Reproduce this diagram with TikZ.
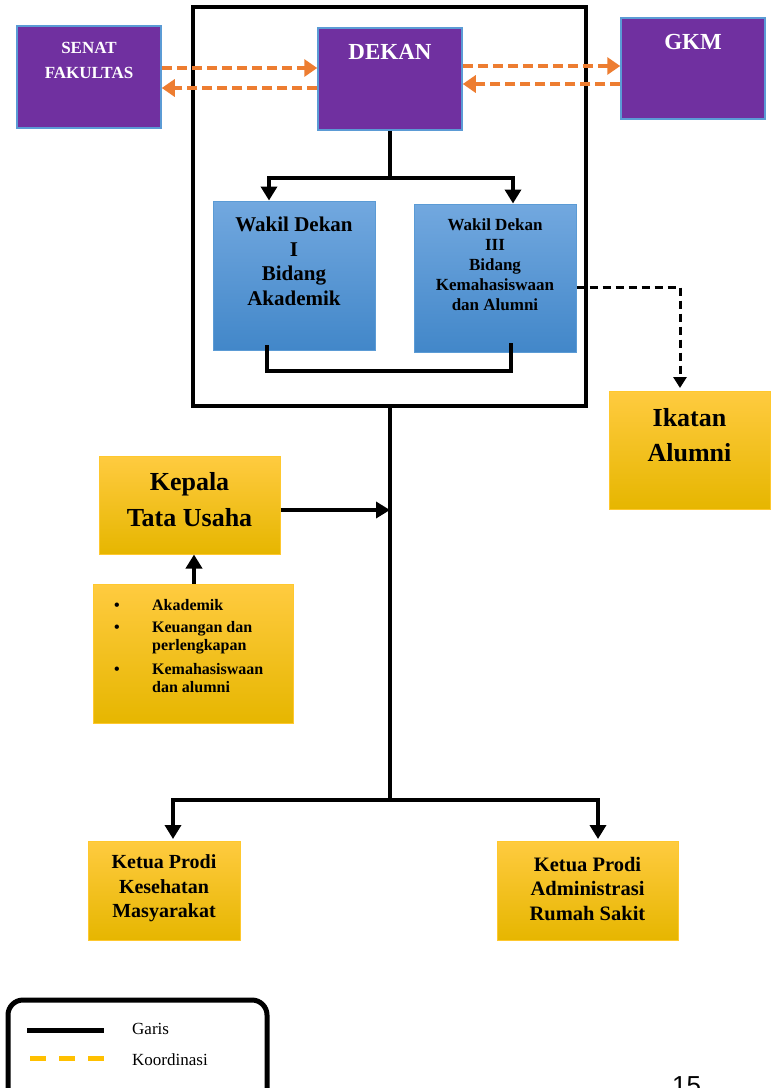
\documentclass[tikz,border=0pt]{standalone}
\usepackage{fontspec}
\setmainfont{Liberation Serif}
\newfontfamily\pagefont{Liberation Sans}
\usetikzlibrary{arrows.meta,shadings}
\definecolor{purp}{HTML}{7030A0}
\definecolor{edgeblue}{HTML}{5B9BD5}
\definecolor{blueTop}{HTML}{72A8DF}
\definecolor{blueBot}{HTML}{4287C9}
\definecolor{yelTop}{HTML}{FFCB40}
\definecolor{yelMid}{HTML}{FFC000}
\definecolor{yelBot}{HTML}{E6B600}
\definecolor{yelEdge}{HTML}{FFC82E}
\definecolor{orng}{HTML}{ED7D31}
\definecolor{legyel}{HTML}{FFC000}
\begin{document}
\begin{tikzpicture}[x=1pt,y=-1pt,
  purplebox/.style={draw=edgeblue, line width=1.5pt, fill=purp, inner sep=0pt},
  bluebox/.style={draw=edgeblue, line width=1pt, top color=blueTop, bottom color=blueBot, inner sep=0pt},
  yelbox/.style={draw=yelEdge, line width=1pt, top color=yelTop, middle color=yelMid, bottom color=yelBot, inner sep=0pt},
  wtext/.style={text=white, font=\bfseries, align=center, inner sep=0pt},
  btext/.style={text=black, font=\bfseries, align=center, inner sep=0pt},
  conn/.style={draw=black, line width=3.5pt},
  tip/.style={-{Triangle[length=14pt,width=16pt]}},
  bothtip/.style={{Triangle[length=14pt,width=16pt]}-{Triangle[length=14pt,width=16pt]}},
  odash/.style={draw=orng, line width=4pt, dash pattern=on 10pt off 5pt, -{Triangle[length=13pt,width=17pt]}},
  bdash/.style={draw=black, line width=3pt, dash pattern=on 8pt off 5pt, -{Triangle[length=11pt,width=13pt]}}
]
\useasboundingbox (0,0) rectangle (776,1088);

% frame
\node[draw=black, line width=3.5pt, minimum width=393pt, minimum height=399pt, inner sep=0pt] (frame) at (389.5,206.5) {};

% top row
\node[purplebox, minimum width=144pt, minimum height=102pt] (senat) at (89,77) {};
\node[wtext, font=\bfseries\fontsize{17}{25}\selectfont] (senat-t) at (89,60) {SENAT\\FAKULTAS};
\node[purplebox, minimum width=144pt, minimum height=102pt] (dekan) at (390,79) {};
\node[wtext, font=\bfseries\fontsize{23}{27}\selectfont] (dekan-t) at (390,52) {DEKAN};
\node[purplebox, minimum width=144pt, minimum height=101pt] (gkm) at (693,68.5) {};
\node[wtext, font=\bfseries\fontsize{23}{27}\selectfont] (gkm-t) at (693,42) {GKM};

% wakil dekan
\node[bluebox, minimum width=162pt, minimum height=149pt] (wd1) at (294,275.5) {};
\node[btext, font=\bfseries\fontsize{21}{24.5}\selectfont] (wd1-t) at (294,261.5) {Wakil Dekan\\I\\Bidang\\Akademik};
\node[bluebox, minimum width=162pt, minimum height=148pt] (wd3) at (495,278) {};
\node[btext, font=\bfseries\fontsize{17}{20}\selectfont] (wd3-t) at (495,265) {Wakil Dekan\\III\\Bidang\\Kemahasiswaan\\dan Alumni};

% ikatan alumni
\node[yelbox, minimum width=161pt, minimum height=118pt] (ikatan) at (689.5,450) {};
\node[btext, font=\bfseries\fontsize{26}{35}\selectfont] (ikatan-t) at (689.5,435.5) {Ikatan\\Alumni};

% kepala tata usaha
\node[yelbox, minimum width=181pt, minimum height=98pt] (ktu) at (189.5,505) {};
\node[btext, font=\bfseries\fontsize{26}{36}\selectfont] (ktu-t) at (189.5,500) {Kepala\\Tata Usaha};

% tugas
\node[yelbox, minimum width=200pt, minimum height=139pt] (tugas) at (193,653.5) {};
\node[anchor=north west, inner sep=0pt, font=\bfseries\fontsize{16}{18}\selectfont] (tugas-t) at (114,598) {%
\def\arraystretch{1}%
\begin{tabular}{@{}p{38pt}@{}l@{}}
\textbullet & Akademik\\[4pt]
\textbullet & Keuangan dan\\
 & perlengkapan\\[6pt]
\textbullet & Kemahasiswaan\\
 & dan alumni
\end{tabular}};

% ketua prodi
\node[yelbox, minimum width=152pt, minimum height=99pt] (kpkm) at (164,890.5) {};
\node[btext, font=\bfseries\fontsize{20}{24.5}\selectfont] (kpkm-t) at (164,888.5) {Ketua Prodi\\Kesehatan\\Masyarakat};
\node[yelbox, minimum width=181pt, minimum height=99pt] (kpars) at (587.5,890.5) {};
\node[btext, font=\bfseries\fontsize{20.5}{24.5}\selectfont] (kpars-t) at (587.5,888.5) {Ketua Prodi\\Administrasi\\Rumah Sakit};

% orange coordination arrows
\draw[odash] (senat.east |- 0,68) -- (dekan.west |- 0,68);
\draw[odash] (dekan.west |- 0,88) -- (senat.east |- 0,88);
\draw[odash] (dekan.east |- 0,66) -- (gkm.west |- 0,66);
\draw[odash] (gkm.west |- 0,84) -- (dekan.east |- 0,84);

% dekan to wakil
\coordinate (jl) at (269,178);
\coordinate (jr) at (513,178);
\draw[conn] (dekan.south) -- (dekan.south |- jl);
\draw[conn, bothtip] (jl |- wd1.north) -- (jl) -- (jr) -- (jr |- wd3.north);

% bracket under wakil
\coordinate (b1) at (267,345);
\coordinate (b2) at (511,343);
\coordinate (bb) at (0,371);
\draw[conn] (b1) -- (b1 |- bb) -- (b2 |- bb) -- (b2);

% dashed to ikatan
\coordinate (ia) at (680,388);
\draw[bdash] (wd3.east |- 0,287) -| (ia);

% main vertical
\coordinate (m) at (390,800);
\draw[conn] (frame.south -| m) -- (m);
\draw[conn, tip] (ktu.east |- 0,510) -- (m |- 0,510);
\draw[conn, tip] (tugas.north -| 194,0) -- (ktu.south -| 194,0);

% to prodi
\coordinate (pl) at (173,839);
\coordinate (pr) at (598,839);
\draw[conn, bothtip] (pl) -- (pl |- m) -- (pr |- m) -- (pr);

% legend
\node[draw=black, line width=5pt, rounded corners=15pt, minimum width=259pt, minimum height=110pt, inner sep=0pt] (legend) at (137.5,1055) {};
\coordinate (ls1) at (27,1030);
\coordinate (le1) at (104,1030);
\draw[draw=black, line width=5pt] (ls1) -- (le1);
\coordinate (ls2) at (30,1058);
\coordinate (le2) at (104,1058);
\draw[draw=legyel, line width=5pt, dash pattern=on 16pt off 13pt] (ls2) -- (le2);
\node[anchor=west, inner sep=0pt, font=\fontsize{17}{20}\selectfont] (garis) at (132,1029) {Garis};
\node[anchor=west, inner sep=0pt, font=\fontsize{17}{20}\selectfont] (koord) at (132,1060) {Koordinasi};

% page number
\node[anchor=north west, inner sep=0pt, font=\pagefont\fontsize{26}{30}\selectfont] (pg) at (672,1076) {15};
\end{tikzpicture}
\end{document}
